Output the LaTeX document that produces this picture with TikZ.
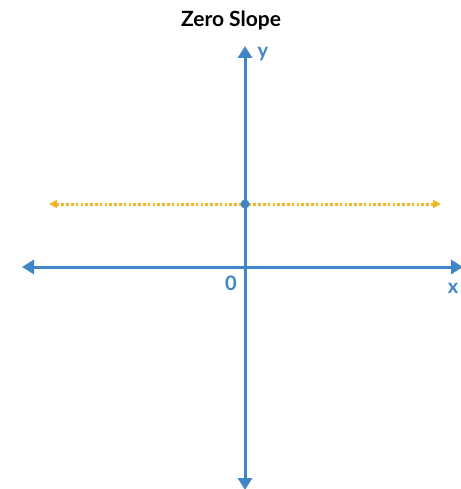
\documentclass[tikz,border=0pt]{standalone}
\usepackage{fontspec}
\setmainfont{Lato}
\usetikzlibrary{arrows.meta}
\definecolor{axisblue}{RGB}{62,134,199}
\definecolor{lineyellow}{RGB}{240,182,42}
\tikzset{
  axis/.style={draw=axisblue, line width=3pt, -{Triangle[length=12pt,width=14pt]}},
  axislbl/.style={text=axisblue, font=\fontsize{20}{22}\selectfont\bfseries, inner sep=0pt},
  zeroline/.style={draw=lineyellow, line width=3pt, dash pattern=on 2.6pt off 2.2pt,
    {Triangle[length=8pt,width=8pt]}-{Triangle[length=8pt,width=8pt]}},
}
\begin{document}
\begin{tikzpicture}[x=1pt,y=-1pt]
\useasboundingbox (0,0) rectangle (460,489);
\node[font=\fontsize{21}{24}\selectfont\bfseries, inner sep=0pt] (title) at (231,20) {Zero Slope};
\coordinate (o) at (245,267);
\coordinate (xl) at (22,267);
\coordinate (xr) at (463,267);
\coordinate (yt) at (245,46);
\coordinate (yb) at (245,490);
\coordinate (ll) at (49,204);
\coordinate (lr) at (441,204);
\draw[axis] (o) -- (xl);
\draw[axis] (o) -- (xr);
\draw[axis] (o) -- (yt);
\draw[axis] (o) -- (yb);
\draw[zeroline] (ll) -- (lr);
\node[circle, fill=axisblue, inner sep=0pt, minimum size=9pt] (pt) at (245,204) {};
\node[axislbl] (ylbl) at (263,54) {y};
\node[axislbl] (zero) at (231,283) {0};
\node[axislbl] (xlbl) at (453,288) {x};
\end{tikzpicture}
\end{document}
